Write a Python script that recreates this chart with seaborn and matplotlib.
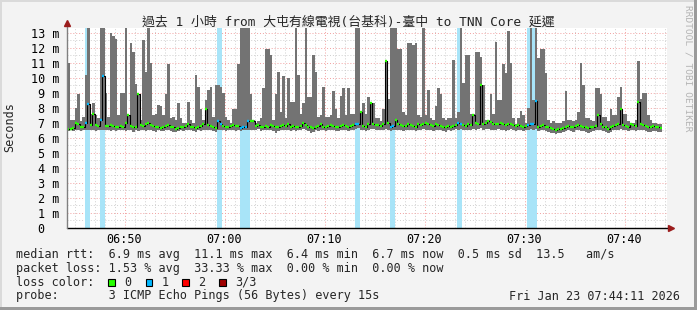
import numpy as np
import pandas as pd
import matplotlib
matplotlib.use("Agg")
import matplotlib.pyplot as plt
import seaborn as sns
from matplotlib.patches import Rectangle
from matplotlib.ticker import MultipleLocator, FixedLocator

sns.set_theme(style="white")
MONO = ['DejaVu Sans Mono', 'Noto Sans CJK TC']
plt.rcParams['font.family'] = MONO

# ---------------- data ----------------
title = "過去 1 小時 from 大屯有線電視(台基科)-臺中 to TNN Core 延遲"
start_time = "06:44:15"
step_seconds = 15

# max ping per 15 s step (ms)
hi = [
    11.0, 7.2, 7.2, 8.0, 8.9, 7.1, 7.4, 10.2, 13.5, 7.6,
    8.3, 7.5, 7.3, 13.5, 13.5, 9.0, 7.4, 13.0, 12.8, 12.6,
    7.5, 9.0, 9.0, 13.5, 7.5, 12.3, 11.7, 9.6, 8.9, 7.2,
    12.5, 10.4, 13.5, 11.0, 7.5, 7.6, 8.2, 8.1, 7.5, 8.9,
    10.9, 7.3, 7.4, 7.2, 8.3, 7.3, 7.0, 7.0, 8.4, 7.2,
    7.0, 10.2, 9.4, 7.9, 7.2, 8.5, 9.2, 9.4, 7.4, 9.5,
    9.5, 9.4, 9.0, 7.4, 7.2, 7.0, 7.9, 7.9, 10.9, 13.5,
    13.5, 13.5, 13.5, 8.9, 7.2, 7.0, 7.1, 7.3, 9.3, 11.9,
    11.9, 11.5, 7.2, 8.9, 10.4, 7.7, 10.1, 7.3, 10.0, 8.4,
    8.4, 13.5, 10.2, 7.6, 8.3, 13.3, 8.7, 8.7, 11.5, 10.4,
    7.4, 7.5, 9.4, 7.4, 7.4, 7.5, 9.1, 7.9, 7.3, 8.8,
    9.3, 7.5, 9.3, 7.6, 7.6, 13.5, 13.5, 7.8, 8.3, 7.6,
    8.7, 8.3, 8.3, 7.3, 7.3, 7.1, 7.9, 11.1, 8.6, 13.5,
    13.5, 13.5, 11.9, 11.9, 7.7, 7.5, 12.3, 12.3, 12.2, 12.3,
    7.5, 7.4, 13.5, 7.5, 9.2, 7.3, 7.2, 8.1, 9.3, 8.9,
    7.3, 7.2, 7.3, 7.3, 11.2, 7.3, 7.75, 13.5, 9.65, 11.5,
    11.5, 7.6, 7.6, 11.75, 11.75, 11.4, 9.5, 7.2, 7.2, 8.9,
    7.6, 12.4, 8.5, 8.5, 10.9, 10.3, 13.1, 11.0, 7.3, 6.9,
    7.3, 7.8, 7.5, 7.0, 8.0, 13.5, 8.5, 13.5, 11.3, 11.9,
    11.9, 10.3, 7.2, 7.0, 7.1, 7.0, 7.0, 7.0, 7.1, 9.1,
    7.2, 7.2, 7.1, 7.2, 7.7, 11.0, 9.5, 7.3, 7.3, 7.2,
    7.1, 9.3, 9.3, 8.9, 7.4, 7.4, 7.1, 7.9, 7.5, 7.5,
    8.7, 9.4, 7.6, 7.6, 7.1, 7.0, 7.0, 7.2, 11.1, 8.6,
    9.0, 9.0, 7.5, 7.2, 7.0, 7.0, 6.9, 6.9,
]

# median rtt per step (ms)
med = [
    6.6, 6.6, 6.65, 7.0, 6.95, 6.7, 6.75, 7.0, 8.25, 6.85,
    7.6, 6.85, 6.8, 7.2, 10.1, 6.8, 6.8, 6.85, 6.8, 6.75,
    6.75, 6.8, 6.75, 7.0, 7.5, 6.8, 6.7, 6.75, 8.9, 6.85,
    6.8, 6.9, 7.0, 6.85, 6.8, 6.7, 6.75, 6.65, 6.7, 6.8,
    6.85, 6.75, 6.7, 6.6, 6.65, 6.7, 6.75, 6.8, 6.9, 6.75,
    6.7, 6.65, 6.75, 6.8, 6.9, 7.9, 6.85, 6.8, 6.7, 6.65,
    7.1, 6.9, 6.8, 6.75, 6.7, 6.8, 6.85, 6.8, 6.8, 6.65,
    6.7, 6.75, 7.1, 7.1, 7.15, 6.8, 6.85, 6.75, 6.7, 6.8,
    6.75, 6.85, 6.8, 6.75, 6.7, 6.8, 6.85, 6.8, 6.9, 6.75,
    6.8, 6.7, 6.75, 6.8, 7.0, 6.85, 6.75, 6.7, 6.65, 6.75,
    6.8, 6.9, 6.75, 6.7, 6.8, 6.85, 6.8, 6.75, 6.7, 6.8,
    6.85, 6.8, 6.75, 6.8, 6.85, 6.9, 6.95, 7.75, 6.8, 6.75,
    6.9, 8.3, 6.95, 6.85, 6.85, 6.8, 6.9, 11.1, 7.0, 6.75,
    6.8, 7.2, 6.9, 6.85, 6.8, 6.8, 6.9, 6.85, 6.8, 6.75,
    6.9, 6.85, 6.95, 7.0, 6.9, 6.85, 6.8, 6.9, 6.85, 6.8,
    6.75, 6.7, 6.8, 6.75, 6.8, 6.85, 7.0, 6.95, 6.85, 6.8,
    6.9, 6.85, 7.5, 7.0, 6.95, 9.5, 6.9, 7.0, 7.1, 7.05,
    6.95, 6.9, 6.95, 7.0, 6.9, 6.85, 6.9, 6.95, 6.85, 6.8,
    6.85, 6.8, 6.75, 6.8, 6.85, 6.9, 6.9, 8.45, 6.75, 6.8,
    6.85, 6.75, 6.7, 6.65, 6.6, 6.55, 6.6, 6.6, 6.65, 6.75,
    6.8, 6.75, 6.7, 6.8, 6.85, 6.8, 6.75, 6.7, 6.65, 6.7,
    6.75, 6.8, 7.55, 6.9, 6.75, 6.7, 6.6, 6.7, 6.8, 6.85,
    6.9, 7.9, 6.85, 6.8, 6.75, 6.9, 6.85, 6.8, 8.4, 6.9,
    6.85, 6.8, 6.75, 6.7, 6.8, 6.75, 6.7, 6.65,
]

# min ping per step (ms)
lo = [
    6.45, 6.5, 6.45, 6.55, 6.5, 6.45, 6.5, 6.55, 6.5, 6.5,
    6.5, 6.45, 6.55, 6.5, 6.55, 6.5, 6.5, 6.45, 6.5, 6.45,
    6.5, 6.55, 6.5, 6.45, 6.5, 6.5, 6.4, 6.5, 6.45, 6.55,
    6.5, 6.45, 6.55, 6.5, 6.45, 6.4, 6.5, 6.45, 6.45, 6.5,
    6.55, 6.45, 6.4, 6.4, 6.45, 6.5, 6.45, 6.5, 6.55, 6.5,
    6.45, 6.4, 6.5, 6.45, 6.5, 6.55, 6.5, 6.55, 6.45, 6.4,
    6.55, 6.5, 6.5, 6.45, 6.5, 6.55, 6.5, 6.45, 6.5, 6.45,
    6.5, 6.5, 6.55, 6.5, 6.55, 6.5, 6.6, 6.45, 6.5, 6.55,
    6.5, 6.55, 6.45, 6.3, 6.45, 6.5, 6.55, 6.5, 6.55, 6.45,
    6.5, 6.45, 6.5, 6.55, 6.6, 6.5, 6.45, 6.35, 6.4, 6.5,
    6.45, 6.55, 6.5, 6.45, 6.5, 6.55, 6.5, 6.45, 6.45, 6.5,
    6.55, 6.5, 6.45, 6.5, 6.55, 6.6, 6.65, 6.55, 6.5, 6.45,
    6.55, 6.6, 6.6, 6.5, 6.55, 6.5, 6.5, 6.6, 6.5, 6.45,
    6.5, 6.55, 6.55, 6.5, 6.45, 6.5, 6.55, 6.5, 6.5, 6.45,
    6.55, 6.5, 6.6, 6.55, 6.5, 6.55, 6.45, 6.5, 6.55, 6.5,
    6.45, 6.4, 6.5, 6.45, 6.5, 6.6, 6.55, 6.6, 6.5, 6.5,
    6.55, 6.5, 6.6, 6.55, 6.6, 6.65, 6.55, 6.6, 6.6, 6.55,
    6.55, 6.5, 6.6, 6.55, 6.5, 6.45, 6.55, 6.6, 6.5, 6.45,
    6.5, 6.5, 6.45, 6.5, 6.55, 6.6, 6.55, 6.6, 6.45, 6.5,
    6.5, 6.45, 6.4, 6.35, 6.3, 6.25, 6.3, 6.35, 6.4, 6.45,
    6.5, 6.45, 6.4, 6.5, 6.5, 6.45, 6.45, 6.4, 6.35, 6.4,
    6.45, 6.5, 6.55, 6.5, 6.45, 6.4, 6.3, 6.4, 6.5, 6.5,
    6.55, 6.6, 6.5, 6.5, 6.45, 6.55, 6.5, 6.45, 6.5, 6.55,
    6.5, 6.45, 6.4, 6.4, 6.45, 6.45, 6.4, 6.4,
]

# steps (index) where 1 of 3 pings was lost
loss_steps = [7, 8, 13, 14, 60, 61, 69, 70, 71, 72, 115, 116,
              129, 130, 156, 157, 184, 185, 186, 187]

y_tick_values = [0, 1, 2, 3, 4, 5, 6, 7, 8, 9, 10, 11, 12, 13]
y_tick_labels = ["0  ", "1 m", "2 m", "3 m", "4 m", "5 m", "6 m", "7 m",
                 "8 m", "9 m", "10 m", "11 m", "12 m", "13 m"]
x_tick_labels = ["06:50", "07:00", "07:10", "07:20", "07:30", "07:40"]

legend_rows = [
    "median rtt:  6.9 ms avg  11.1 ms max  6.4 ms min  6.7 ms now  0.5 ms sd  13.5   am/s",
    "packet loss: 1.53 % avg  33.33 % max  0.00 % min  0.00 % now",
    "loss color:",
    "probe:       3 ICMP Echo Pings (56 Bytes) every 15s",
]
loss_labels = ["0", "1", "2", "3/3"]
loss_colors = ["#26ff00", "#00b8ff", "#ff0000", "#a00000"]
date_text = "Fri Jan 23 07:44:11 2026"
watermark = "RRDTOOL / TOBI OETIKER"

# ---------------- figure ----------------
W, H = 697, 310
fig = plt.figure(figsize=(W / 100, H / 100), dpi=100, facecolor="#f3f3f3")


def fx(px):
    return px / W


def fy(py):
    return 1 - py / H


def hms(s):
    parts = [int(p) for p in s.split(":")]
    while len(parts) < 3:
        parts.append(0)
    return parts[0] * 3600 + parts[1] * 60 + parts[2]


t0 = hms(start_time)
n = len(hi)
t = t0 + step_seconds * np.arange(n)
hi_a = np.array(hi)
med_a = np.array(med)
lo_a = np.array(lo)
loss = np.zeros(n, dtype=int)
loss[loss_steps] = 1

ytop = 13.35
ax = fig.add_axes([fx(67), fy(228), fx(600), (228 - 27.7) / H])
ax.set_facecolor("white")
ax.set_xlim(t0, t0 + 3600)
ax.set_ylim(0, ytop)

# grid
ax.xaxis.set_major_locator(FixedLocator([hms(s) for s in x_tick_labels]))
ax.xaxis.set_minor_locator(MultipleLocator(60))
ax.set_yticks(y_tick_values)
ax.yaxis.set_minor_locator(MultipleLocator(0.5))
ax.grid(which="minor", color="#cfcfcf", linestyle=(0, (1, 2)), linewidth=0.7)
ax.grid(which="major", color="#f2a0a0", linestyle=(0, (1, 2)), linewidth=0.7)
ax.set_axisbelow(True)

# loss background bands
lt = t[loss > 0]
ax.bar(lt, [ytop + 1] * len(lt), width=step_seconds, align="edge",
       color="#a8e4f8", linewidth=0, zorder=1)

# smoke (min..max)
tx = np.append(t, t[-1] + step_seconds)
ax.fill_between(tx, np.append(lo_a, lo_a[-1]), np.append(hi_a, hi_a[-1]),
                step="post", color="#737373", linewidth=0, zorder=2)

# median: thin black step line + loss-coloured marks
df = pd.DataFrame({"time": t, "median": med_a})
sns.lineplot(data=df, x="time", y="median", drawstyle="steps-post",
             color="black", linewidth=0.8, ax=ax, zorder=3, legend=False)
for lvl, col in enumerate(loss_colors):
    m = loss == lvl
    if m.any():
        ax.hlines(med_a[m], t[m] + 1.5, t[m] + step_seconds - 1.5, colors=col,
                  linewidth=1.7, zorder=4)

ax.set_xlabel("")
ax.set_ylabel("")
ax.set_xticklabels(x_tick_labels)
ax.set_yticklabels(y_tick_labels)
ax.tick_params(axis="both", which="both", length=0, labelsize=8.5,
               labelcolor="black")
ax.tick_params(axis="y", pad=5.5)
ax.tick_params(axis="x", pad=3.5)
for sp in ax.spines.values():
    sp.set_visible(False)

# axis lines + arrows
ax.plot([0, 1.004], [0, 0], transform=ax.transAxes, color="black",
        linewidth=1.0, clip_on=False, zorder=6)
ax.plot([0, 0], [0, 1.02], transform=ax.transAxes, color="#808080",
        linewidth=1.0, clip_on=False, zorder=6)
ax.plot([1.0065], [0], marker=">", markersize=4, color="#9b1c1c",
        transform=ax.transAxes, clip_on=False, zorder=7, linestyle="none")
ax.plot([0], [1.021], marker="^", markersize=4, color="#9b1c1c",
        transform=ax.transAxes, clip_on=False, zorder=7, linestyle="none")

# texts
fig.text(fx(348.5), fy(21.7), title, ha="center", va="center", fontsize=9.3,
         family=MONO)
fig.text(fx(10), fy(127), "Seconds", rotation=90, ha="center", va="center",
         fontsize=8.5)
fig.text(fx(688.3), fy(5), watermark, rotation=270, ha="center", va="top",
         fontsize=6.8, color="#b4b4b4")

row_y = [254.3, 268.3, 282.3, 296.0]
for txt, yy in zip(legend_rows, row_y):
    fig.text(fx(16), fy(yy), txt, ha="left", va="center", fontsize=8.5)
fig.text(fx(680), fy(296.0), date_text, ha="right", va="center", fontsize=8.5)

box_x = [108.3, 145.7, 182.3, 219.3]
lab_x = [124.0, 161.7, 198.3, 235.0]
for bx, lx, lab, col in zip(box_x, lab_x, loss_labels, loss_colors):
    fig.patches.append(Rectangle((fx(bx), fy(282.3 + 3.4)), fx(6.7), 6.7 / H,
                                 transform=fig.transFigure, facecolor=col,
                                 edgecolor="black", linewidth=0.8))
    fig.text(fx(lx), fy(282.3), lab, ha="left", va="center", fontsize=8.5)

# frame borders
fig.patches.append(Rectangle((0, 1 - 2 / H), 1, 2 / H, transform=fig.transFigure,
                             facecolor="#dadada", linewidth=0))
fig.patches.append(Rectangle((0, 0), 2 / W, 1, transform=fig.transFigure,
                             facecolor="#dadada", linewidth=0))
fig.patches.append(Rectangle((1 - 3 / W, 0), 3 / W, 1, transform=fig.transFigure,
                             facecolor="#9a9a9a", linewidth=0))
fig.patches.append(Rectangle((0, 0), 1, 3 / H, transform=fig.transFigure,
                             facecolor="#9a9a9a", linewidth=0))

fig.savefig("out.png", dpi=100, facecolor=fig.get_facecolor())
